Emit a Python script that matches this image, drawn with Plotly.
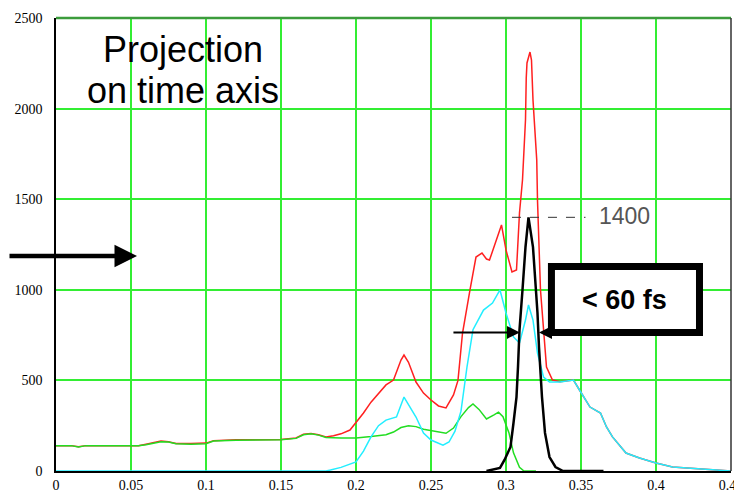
import plotly.graph_objects as go

# time axis (ps) and projected intensities
green_t = [0, 0.01, 0.015, 0.02, 0.04, 0.055, 0.06, 0.065, 0.07, 0.075, 0.08, 0.09, 0.1, 0.105,
           0.12, 0.15, 0.16, 0.165, 0.17, 0.175, 0.18, 0.19, 0.2, 0.21, 0.22, 0.225, 0.23,
           0.235, 0.24, 0.245, 0.25, 0.255, 0.26, 0.265, 0.27, 0.275, 0.278, 0.282, 0.287,
           0.292, 0.295, 0.298, 0.302, 0.305, 0.309, 0.312, 0.32]
green_v = [140, 140, 132, 140, 140, 140, 145, 155, 162, 160, 150, 148, 150, 165,
           170, 172, 180, 200, 205, 198, 185, 182, 182, 190, 200, 215, 240,
           250, 245, 230, 222, 212, 208, 237, 300, 350, 370, 340, 287,
           310, 325, 300, 210, 100, 20, 0, 0]

red_t = [0, 0.01, 0.015, 0.02, 0.04, 0.055, 0.06, 0.065, 0.07, 0.075, 0.08, 0.09, 0.1, 0.105,
         0.12, 0.15, 0.16, 0.165, 0.17, 0.175, 0.18, 0.185, 0.19, 0.196, 0.2, 0.205, 0.21,
         0.215, 0.22, 0.225, 0.23, 0.232, 0.235, 0.24, 0.245, 0.25, 0.255, 0.26, 0.265,
         0.268, 0.271, 0.276, 0.28, 0.284, 0.287, 0.289, 0.294, 0.297, 0.3, 0.304, 0.307,
         0.309, 0.311, 0.312, 0.313, 0.3135, 0.314, 0.316, 0.317, 0.318, 0.319, 0.3205,
         0.321, 0.323, 0.327, 0.331, 0.336, 0.345, 0.349, 0.356, 0.363, 0.367, 0.371,
         0.38, 0.389, 0.4, 0.411, 0.42, 0.443, 0.45]
red_v = [140, 140, 134, 140, 140, 140, 148, 158, 165, 162, 152, 152, 154, 167,
         172, 174, 182, 203, 207, 200, 188, 195, 205, 226, 265, 320, 380,
         430, 475, 502, 612, 640, 600, 491, 430, 392, 359, 348, 420,
         500, 760, 999, 1181, 1203, 1170, 1164, 1291, 1358, 1220, 1098, 1109,
         1424, 1606, 1810, 1937, 2169, 2252, 2312, 2268, 2048, 1899, 1716,
         1496, 999, 574, 502, 493, 502, 447, 353, 320, 243, 188,
         99, 72, 44, 22, 17, 5, 0]

cyan_t = [0, 0.18, 0.183, 0.19, 0.2, 0.205, 0.21, 0.215, 0.22, 0.227, 0.232, 0.236, 0.24,
          0.245, 0.25, 0.258, 0.262, 0.266, 0.27, 0.274, 0.278, 0.285, 0.291, 0.296, 0.3,
          0.305, 0.309, 0.313, 0.315, 0.318, 0.321, 0.325, 0.329, 0.336, 0.345, 0.349,
          0.356, 0.363, 0.367, 0.371, 0.38, 0.389, 0.4, 0.411, 0.42, 0.443, 0.45]
cyan_v = [0, 0, 5, 20, 50, 110, 188, 250, 281, 298, 408, 350, 298,
          210, 171, 143, 160, 220, 330, 574, 780, 888, 927, 999, 872,
          740, 706, 833, 916, 833, 651, 519, 491, 491, 502, 447,
          353, 320, 243, 188, 99, 72, 44, 22, 17, 5, 0]

black_t = [0.287, 0.296, 0.299, 0.303, 0.305, 0.307, 0.308, 0.309, 0.311, 0.313, 0.315,
           0.318, 0.321, 0.322, 0.324, 0.326, 0.329, 0.333, 0.338, 0.365]
black_v = [0, 17, 61, 133, 265, 408, 574, 778, 999, 1236, 1400,
           1236, 872, 684, 408, 210, 77, 22, 0, 0]

x_ticks = [0, 0.05, 0.1, 0.15, 0.2, 0.25, 0.3, 0.35, 0.4, 0.45]
x_labels = ["0", "0.05", "0.1", "0.15", "0.2", "0.25", "0.3", "0.35", "0.4", "0.45"]
y_ticks = [0, 500, 1000, 1500, 2000, 2500]
y_labels = ["0", "500", "1000", "1500", "2000", "2500"]

fig = go.Figure()
fig.add_trace(go.Scatter(x=red_t, y=red_v, mode="lines", line=dict(color="#ff2020", width=1.5)))
fig.add_trace(go.Scatter(x=green_t, y=green_v, mode="lines", line=dict(color="#22dd22", width=1.5)))
fig.add_trace(go.Scatter(x=cyan_t, y=cyan_v, mode="lines", line=dict(color="#22eeff", width=1.5)))
fig.add_trace(go.Scatter(x=black_t, y=black_v, mode="lines", line=dict(color="black", width=2.5)))

tick_font = dict(family="Liberation Serif", size=14, color="black")

# the page body keeps its default 8px margin, so the figure is 8px smaller
fig.update_layout(
    width=734, height=483,
    margin=dict(l=48, r=11, t=10, b=20),
    paper_bgcolor="white", plot_bgcolor="white",
    showlegend=False,
    xaxis=dict(range=[0, 0.45001], tickvals=x_ticks, ticktext=x_labels,
               showgrid=True, gridcolor="#33ee33", gridwidth=1.5,
               showline=True, linecolor="black", linewidth=2,
               zeroline=False, ticks="", ticklabelstandoff=0, automargin=False,
               ticklabeloverflow="allow", tickfont=tick_font),
    yaxis=dict(range=[0, 2500], tickvals=y_ticks, ticktext=y_labels,
               showgrid=True, gridcolor="#33ee33", gridwidth=1.5,
               showline=True, linecolor="black", linewidth=1.5,
               zeroline=False, ticks="", ticklabelstandoff=9, automargin=False,
               tickfont=tick_font),
    shapes=[
        dict(type="line", xref="paper", yref="paper", x0=0, x1=1, y0=1, y1=1,
             line=dict(color="#3c9c3c", width=2.5)),
        dict(type="line", xref="paper", yref="paper", x0=1, x1=1, y0=0, y1=1,
             line=dict(color="#333333", width=1.5)),
        dict(type="line", xref="x", yref="y", x0=0.304, x1=0.353, y0=1400, y1=1400,
             line=dict(color="#333333", width=1, dash="dash")),
        dict(type="rect", xref="x", yref="y", x0=0.3303, x1=0.429, y0=764, y1=1128,
             line=dict(color="black", width=7), fillcolor="white", layer="above"),
    ],
    annotations=[
        dict(x=0.0847, y=2325, xref="x", yref="y", text="Projection", showarrow=False,
             font=dict(family="Liberation Sans", size=36, color="black")),
        dict(x=0.0847, y=2100, xref="x", yref="y", text="on time axis", showarrow=False,
             font=dict(family="Liberation Sans", size=36, color="black")),
        dict(x=0.3793, y=1405, xref="x", yref="y", text="1400", showarrow=False,
             font=dict(family="Liberation Sans", size=23, color="#555555")),
        dict(x=0.3793, y=946, xref="x", yref="y", text="<b>&lt; 60 fs</b>", showarrow=False,
             font=dict(family="Liberation Sans", size=27, color="black")),
        # big arrow coming in from the left
        dict(x=0.054, y=1187, xref="x", yref="y", text="", showarrow=True,
             ax=-140, ay=0, arrowhead=2, arrowsize=1, arrowwidth=4.5, arrowcolor="black"),
        # FWHM arrows
        dict(x=0.3093, y=765, xref="x", yref="y", text="", showarrow=True,
             ax=-68, ay=0, arrowhead=2, arrowsize=1.3, arrowwidth=2, arrowcolor="black"),
        dict(x=0.3220, y=765, xref="x", yref="y", text="", showarrow=True,
             ax=20, ay=0, arrowhead=2, arrowsize=1.3, arrowwidth=2, arrowcolor="black"),
    ],
)

fig.write_html("out.html")
